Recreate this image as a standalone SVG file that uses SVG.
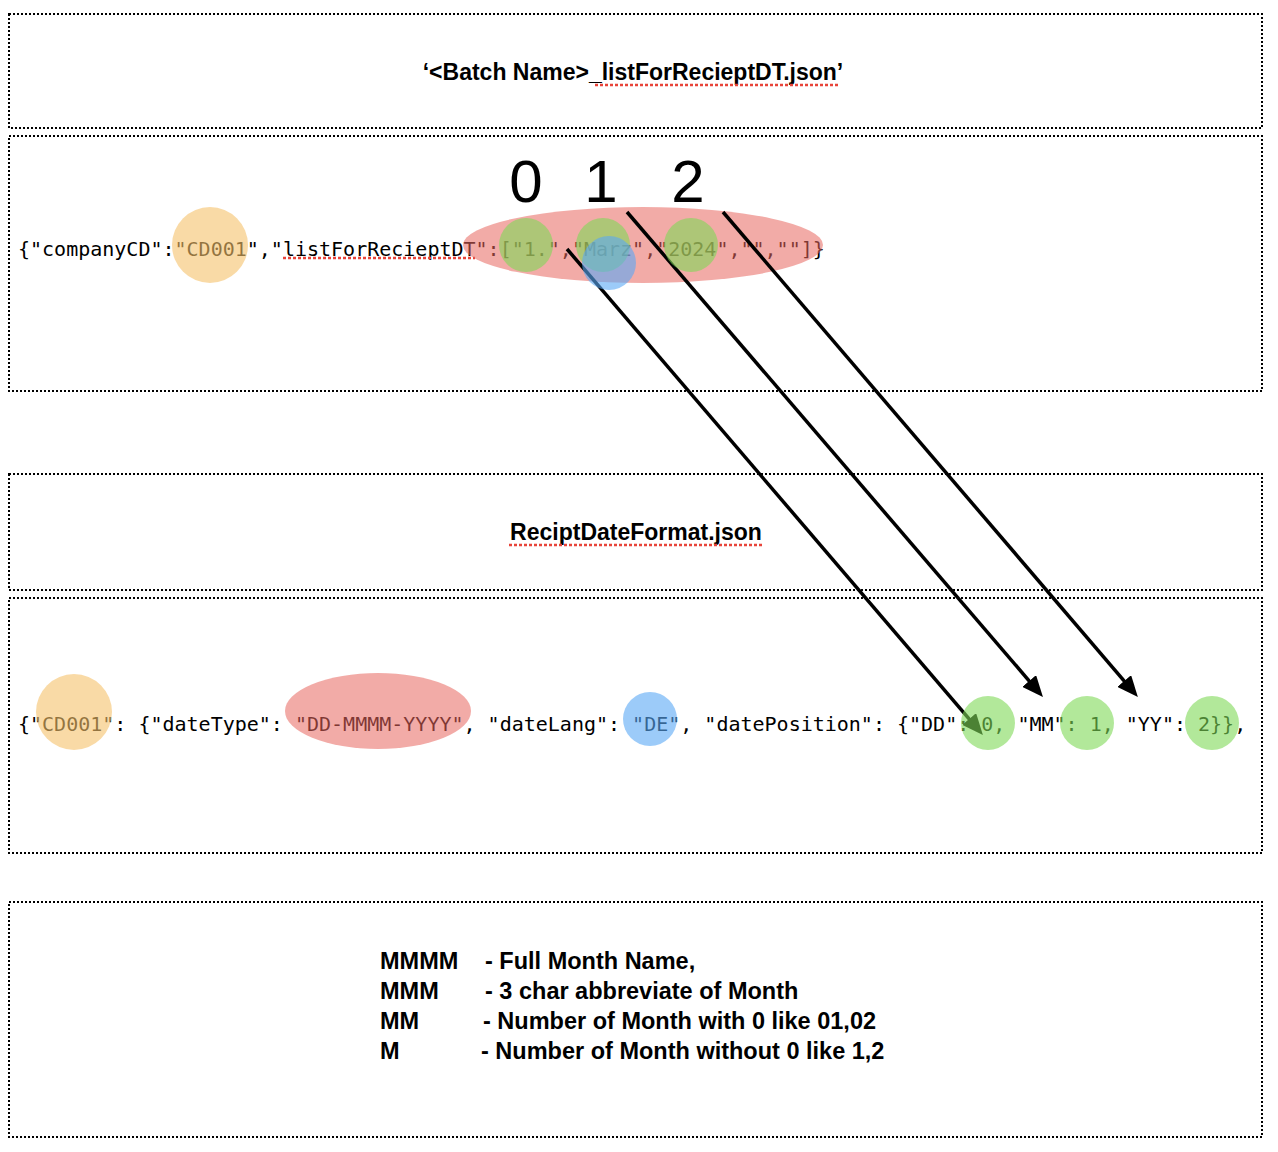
<svg xmlns="http://www.w3.org/2000/svg" width="1278" height="1152" viewBox="0 0 1278 1152">
<defs>
<style>
.box{fill:#fff;stroke:#000;stroke-width:2;stroke-dasharray:2 2}
.sans{font-family:"Liberation Sans",Arial,Helvetica,sans-serif;font-weight:bold;font-size:23px;fill:#000}
.leg{font-size:23.5px}
.mono{font-family:"DejaVu Sans Mono","Liberation Mono",monospace;font-size:20px;fill:#000}
.num{font-family:"Liberation Sans",Arial,Helvetica,sans-serif;font-size:60px;fill:#000;text-anchor:middle}
.squig{fill:none;stroke:#E8443A;stroke-width:2.5;stroke-dasharray:3 2}
.red{fill:#E8665E;opacity:0.55}
.green{fill:#7ED957;opacity:0.6}
.blue{fill:#5AA8F5;opacity:0.6}
.orange{fill:#F5C26B;opacity:0.6}
.conn{fill:none;stroke:#000;stroke-width:3.5}
</style>
<marker id="ah" markerUnits="userSpaceOnUse" markerWidth="21" markerHeight="18" refX="5" refY="9" orient="auto">
<path d="M0,0 L21,9 L0,18 z" fill="#000"/>
</marker>
</defs>
<rect width="1278" height="1152" fill="#fff"/>

<g id="box-batch-file">
<rect class="box" x="9" y="14" width="1253" height="114"/>
<text class="sans" x="633" y="80" text-anchor="middle">‘&lt;Batch Name&gt;_listForRecieptDT.json’</text>
<line class="squig" x1="595" y1="85" x2="840" y2="85"/>
</g>

<g id="box-batch-content">
<rect class="box" x="9" y="136" width="1253" height="255"/>
<text class="num" x="526" y="202">0</text>
<text class="num" x="601" y="202">1</text>
<text class="num" x="688" y="202">2</text>
<text class="mono" x="18" y="256">{"companyCD":"CD001","listForRecieptDT":["1.","Marz","2024","",""]}</text>
<line class="squig" x1="283" y1="258" x2="475" y2="258"/>
</g>

<g id="box-format-file">
<rect class="box" x="9" y="474" width="1253" height="116"/>
<text class="sans" x="636" y="540" text-anchor="middle">ReciptDateFormat.json</text>
<line class="squig" x1="509" y1="545" x2="764" y2="545"/>
</g>

<g id="box-format-content">
<rect class="box" x="9" y="598" width="1253" height="255"/>
<text class="mono" x="18" y="731">{"CD001": {"dateType": "DD-MMMM-YYYY", "dateLang": "DE", "datePosition": {"DD": 0, "MM": 1, "YY": 2}},</text>
</g>

<g id="box-legend">
<rect class="box" x="9" y="902" width="1253" height="235"/>
<text class="sans leg" y="969"><tspan x="380">MMMM</tspan><tspan x="485">- Full Month Name,</tspan></text>
<text class="sans leg" y="999"><tspan x="380">MMM</tspan><tspan x="485">- 3 char abbreviate of Month</tspan></text>
<text class="sans leg" y="1029"><tspan x="380">MM</tspan><tspan x="483">- Number of Month with 0 like 01,02</tspan></text>
<text class="sans leg" y="1059"><tspan x="380">M</tspan><tspan x="481">- Number of Month without 0 like 1,2</tspan></text>
</g>

<g id="highlights-under">
<ellipse class="red" cx="643" cy="245" rx="180" ry="38"/>
<ellipse class="red" cx="378" cy="711" rx="93" ry="38"/>
</g>

<g id="connectors">
<line class="conn" x1="567" y1="249" x2="972.5" y2="722.8" marker-end="url(#ah)"/>
<line class="conn" x1="627" y1="212" x2="1032.5" y2="684.8" marker-end="url(#ah)"/>
<line class="conn" x1="723" y1="212" x2="1127.5" y2="684.8" marker-end="url(#ah)"/>
</g>

<g id="highlights-over">
<circle class="orange" cx="210" cy="245" r="38"/>
<circle class="green" cx="526" cy="245" r="27"/>
<circle class="green" cx="603" cy="245" r="27"/>
<circle class="green" cx="691" cy="245" r="27"/>
<circle class="blue" cx="609" cy="263" r="27"/>
<circle class="orange" cx="74" cy="712" r="38"/>
<circle class="blue" cx="650" cy="719" r="27"/>
<circle class="green" cx="988" cy="723" r="27"/>
<circle class="green" cx="1087" cy="723" r="27"/>
<circle class="green" cx="1212" cy="723" r="27"/>
</g>
</svg>
